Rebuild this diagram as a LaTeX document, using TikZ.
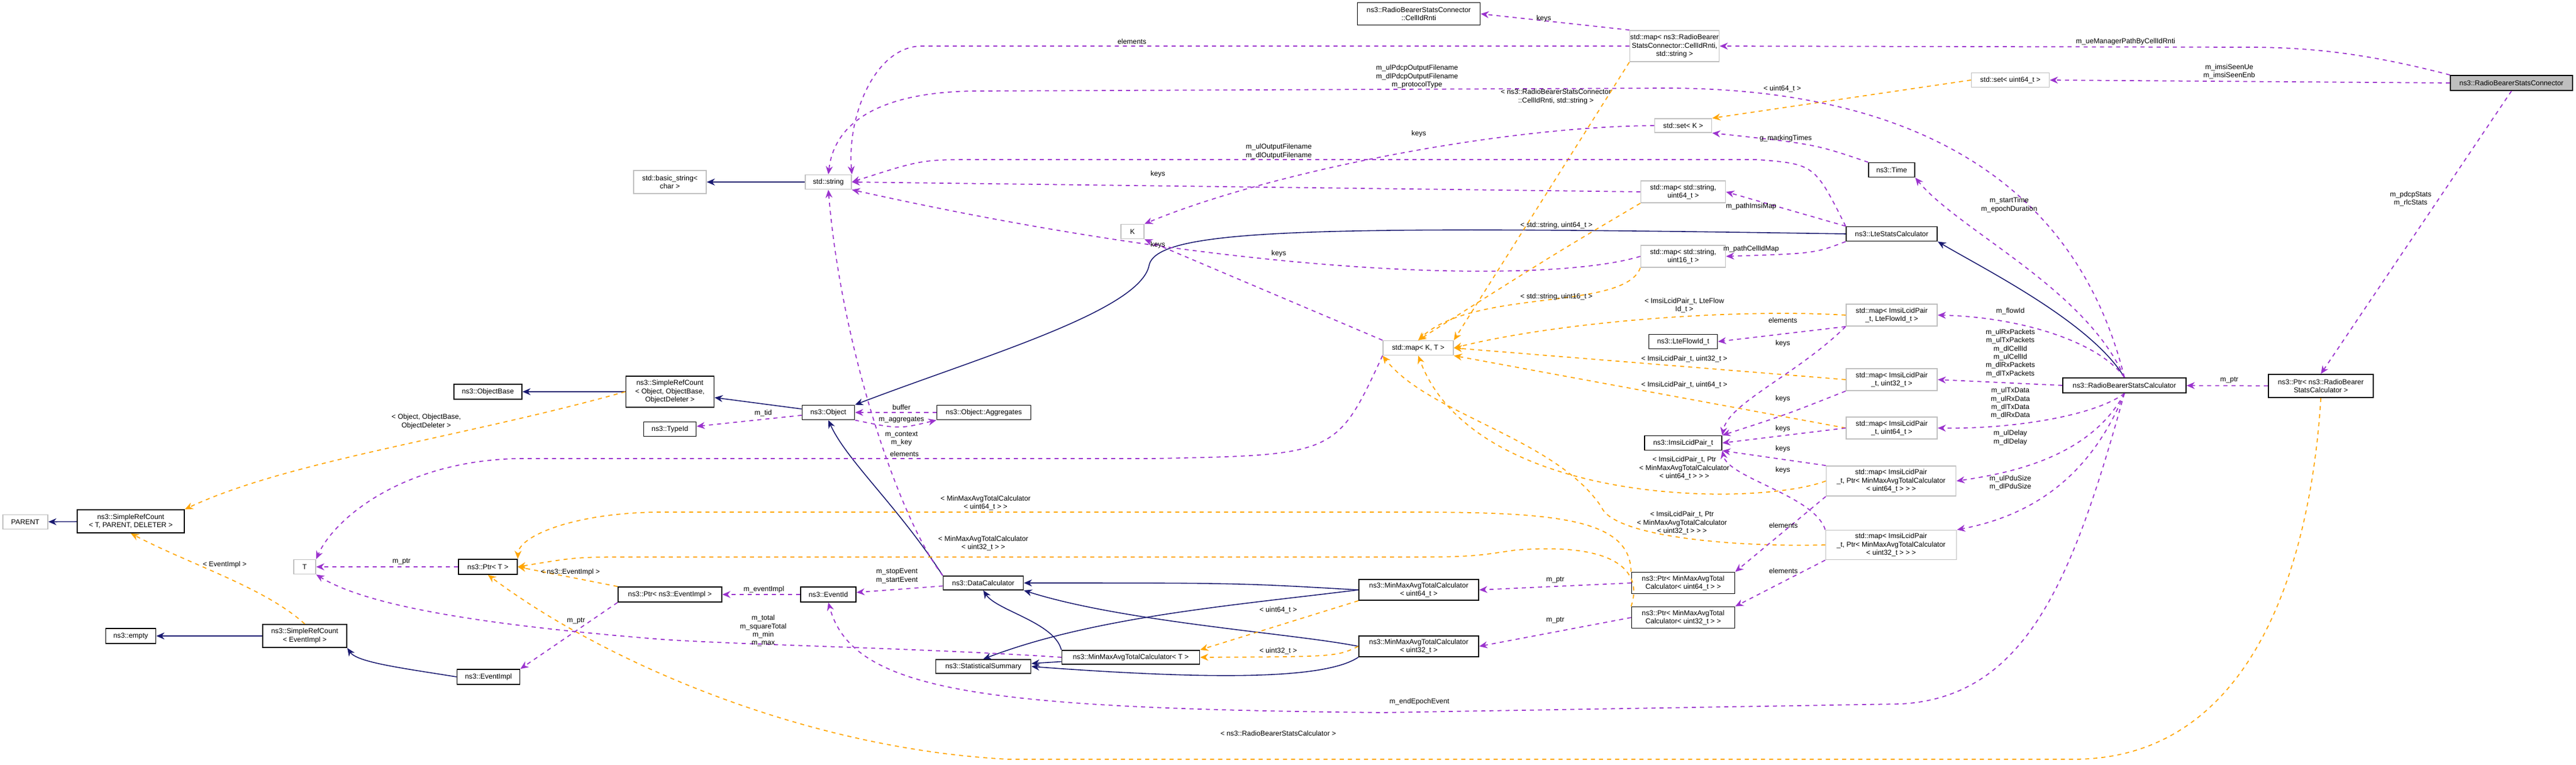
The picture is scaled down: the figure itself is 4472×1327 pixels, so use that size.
\documentclass[tikz,border=0pt]{standalone}
\usepackage{fontspec}
\setmainfont{Liberation Sans}
\usetikzlibrary{arrows.meta}
\definecolor{navy}{HTML}{191970}
\definecolor{purp}{HTML}{9A32CD}
\definecolor{orng}{HTML}{FFA500}
\definecolor{gbord}{HTML}{BFBFBF}
\newcommand{\tf}{\fontsize{3.5}{4.1}\selectfont}
\begin{document}
\begin{tikzpicture}[x=0.01cm,y=-0.01cm,
 box/.style={draw=black,line width=0.5pt,fill=white,font=\tf,align=center,inner sep=0pt},
 gbox/.style={box,draw=gbord},
 lbl/.style={font=\tf,align=center,inner sep=0pt},
 inh/.style={draw=navy,line width=0.45pt,-{Stealth[length=4pt,width=3.4pt]}},
 use/.style={draw=purp,line width=0.5pt,dash pattern=on 2pt off 2pt,-{Stealth[length=4pt,width=3.4pt]}},
 tpl/.style={draw=orng,line width=0.5pt,dash pattern=on 2pt off 2pt,-{Stealth[length=4pt,width=3.4pt]}}]
\useasboundingbox (0,0) rectangle (4472,1327);
\fill[white] (0,0) rectangle (4472,1327);
% nodes
\node[box,fill=gray!50,minimum width=2.12cm,minimum height=0.26cm] (rbsc) at (4360,144) {ns3::RadioBearerStatsConnector};
\node[box,minimum width=2.13cm,minimum height=0.39cm] (cellid) at (2463,24) {ns3::RadioBearerStatsConnector\\::CellIdRnti};
\node[gbox,minimum width=1.55cm,minimum height=0.54cm] (mapcell) at (2907,80) {std::map< ns3::RadioBearer\\StatsConnector::CellIdRnti,\\ std::string >};
\node[gbox,minimum width=1.35cm,minimum height=0.25cm] (setuint) at (3490,139) {std::set< uint64\_t >};
\node[gbox,minimum width=0.99cm,minimum height=0.24cm] (setk) at (2922,218) {std::set< K >};
\node[box,minimum width=0.8cm,minimum height=0.25cm] (time) at (3284,295) {ns3::Time};
\node[box,minimum width=1.58cm,minimum height=0.25cm] (lte) at (3284,406) {ns3::LteStatsCalculator};
\node[gbox,minimum width=1.47cm,minimum height=0.38cm] (mapsu64) at (2922,333) {std::map< std::string,\\ uint64\_t >};
\node[gbox,minimum width=1.47cm,minimum height=0.38cm] (mapsu16) at (2922,445) {std::map< std::string,\\ uint16\_t >};
\node[gbox,minimum width=0.4cm,minimum height=0.25cm] (k) at (1966,402) {K};
\node[gbox,minimum width=0.8cm,minimum height=0.25cm] (str) at (1438,316) {std::string};
\node[gbox,minimum width=1.26cm,minimum height=0.4cm] (bstr) at (1163,316) {std::basic\_string<\\ char >};
\node[gbox,minimum width=1.22cm,minimum height=0.25cm] (mapkt) at (2462,604) {std::map< K, T >};
\node[gbox,minimum width=1.58cm,minimum height=0.38cm] (mapflow) at (3284,547) {std::map< ImsiLcidPair\\\_t, LteFlowId\_t >};
\node[box,minimum width=1.19cm,minimum height=0.25cm] (flowid) at (2922,593) {ns3::LteFlowId\_t};
\node[gbox,minimum width=1.58cm,minimum height=0.38cm] (map32) at (3284,659) {std::map< ImsiLcidPair\\\_t, uint32\_t >};
\node[gbox,minimum width=1.58cm,minimum height=0.38cm] (map64) at (3284,743) {std::map< ImsiLcidPair\\\_t, uint64\_t >};
\node[box,minimum width=1.34cm,minimum height=0.25cm] (imsi) at (2922,769) {ns3::ImsiLcidPair\_t};
\node[gbox,minimum width=2.25cm,minimum height=0.52cm] (mapp64) at (3283,835) {std::map< ImsiLcidPair\\\_t, Ptr< MinMaxAvgTotalCalculator\\< uint64\_t > > >};
\node[gbox,minimum width=2.27cm,minimum height=0.51cm] (mapp32) at (3283,946) {std::map< ImsiLcidPair\\\_t, Ptr< MinMaxAvgTotalCalculator\\< uint32\_t > > >};
\node[box,minimum width=2.14cm,minimum height=0.26cm] (rbcalc) at (3688,669) {ns3::RadioBearerStatsCalculator};
\node[box,minimum width=1.82cm,minimum height=0.4cm] (prbcalc) at (4029,670) {ns3::Ptr< ns3::RadioBearer\\StatsCalculator >};
\node[box,minimum width=1.18cm,minimum height=0.26cm] (objbase) at (847,680) {ns3::ObjectBase};
\node[box,minimum width=1.53cm,minimum height=0.54cm] (srcobj) at (1163,680) {ns3::SimpleRefCount\\< Object, ObjectBase,\\ ObjectDeleter >};
\node[box,minimum width=0.91cm,minimum height=0.25cm] (object) at (1438,716) {ns3::Object};
\node[box,minimum width=0.91cm,minimum height=0.25cm] (typeid) at (1163,745) {ns3::TypeId};
\node[box,minimum width=1.63cm,minimum height=0.25cm] (agg) at (1708,716) {ns3::Object::Aggregates};
\node[gbox,minimum width=0.78cm,minimum height=0.25cm] (parent) at (44,906) {PARENT};
\node[box,minimum width=1.86cm,minimum height=0.4cm] (srct) at (227,905) {ns3::SimpleRefCount\\< T, PARENT, DELETER >};
\node[gbox,minimum width=0.38cm,minimum height=0.25cm] (t) at (529,984) {T};
\node[box,minimum width=1.02cm,minimum height=0.26cm] (ptrt) at (847,984) {ns3::Ptr< T >};
\node[box,minimum width=1.8cm,minimum height=0.26cm] (ptrev) at (1163,1032) {ns3::Ptr< ns3::EventImpl >};
\node[box,minimum width=0.96cm,minimum height=0.26cm] (eventid) at (1438,1032) {ns3::EventId};
\node[box,minimum width=0.87cm,minimum height=0.26cm] (empty) at (227,1104) {ns3::empty};
\node[box,minimum width=1.46cm,minimum height=0.4cm] (srcev) at (529,1104) {ns3::SimpleRefCount\\< EventImpl >};
\node[box,minimum width=1.09cm,minimum height=0.26cm] (evimpl) at (848,1175) {ns3::EventImpl};
\node[box,minimum width=1.39cm,minimum height=0.24cm] (datacalc) at (1707,1012) {ns3::DataCalculator};
\node[box,minimum width=2.08cm,minimum height=0.36cm] (mm64) at (2463,1024) {ns3::MinMaxAvgTotalCalculator\\< uint64\_t >};
\node[box,minimum width=2.08cm,minimum height=0.36cm] (mm32) at (2463,1122) {ns3::MinMaxAvgTotalCalculator\\< uint32\_t >};
\node[box,minimum width=2.39cm,minimum height=0.24cm] (mmt) at (1963,1141) {ns3::MinMaxAvgTotalCalculator< T >};
\node[box,minimum width=1.65cm,minimum height=0.24cm] (stat) at (1707,1157) {ns3::StatisticalSummary};
\node[box,minimum width=1.79cm,minimum height=0.37cm] (pmm64) at (2922,1012) {ns3::Ptr< MinMaxAvgTotal\\Calculator< uint64\_t > >};
\node[box,minimum width=1.79cm,minimum height=0.37cm] (pmm32) at (2922,1072) {ns3::Ptr< MinMaxAvgTotal\\Calculator< uint32\_t > >};
% inheritance
\draw[inh] (srcobj) -- (objbase);
\draw[inh] (object) -- (srcobj);
\draw[inh] (datacalc.north west) .. controls (1560,880) and (1470,800) .. (object.south);
\draw[inh] (lte.west) .. controls (2300,392) and (2010,395) .. (1995,460) .. controls (1980,540) and (1700,620) .. (object.north east);
\draw[inh] (rbcalc.north) .. controls (3630,560) and (3450,470) .. (lte.south east);
\draw[inh] (srct) -- (parent);
\draw[inh] (str) -- (bstr);
\draw[inh] (srcev) -- (empty);
\draw[inh] (evimpl.west) .. controls (700,1160) and (620,1150) .. (srcev.south east);
\draw[inh] (mm64.west) .. controls (2150,1012) .. (datacalc.east);
\draw[inh] (mm32.west) .. controls (2250,1100) and (1950,1080) .. (datacalc.south east);
\draw[inh] (mmt.north west) .. controls (1830,1080) and (1730,1060) .. (datacalc.south);
\draw[inh] (mm64.west) .. controls (2150,1050) and (1900,1070) .. (stat.north);
\draw[inh] (mm32.south west) .. controls (2300,1180) and (2100,1180) .. (stat.east);
\draw[inh] (mmt) -- (stat);
% templates
\draw[tpl] (srcobj.west) .. controls (800,760) and (500,800) .. (srct.north east);
\draw[tpl] (srcev.north) .. controls (460,1020) and (330,980) .. (srct.south);
\draw[tpl] (ptrev.north west) -- (ptrt.east);
\draw[tpl] (pmm64.north west) .. controls (2830,900) and (2700,889) .. (2450,889) -- (1150,889) .. controls (1000,889) and (900,930) .. (ptrt.north east);
\draw[tpl] (pmm32.north west) .. controls (2850,1000) and (2820,940) .. (2630,955) .. controls (2550,967) .. (2400,967) -- (1100,967) .. controls (1000,967) .. (ptrt.east);
\draw[tpl] (prbcalc.south) .. controls (4010,1000) and (3900,1318) .. (3600,1318) -- (1750,1318) .. controls (1400,1300) and (1050,1150) .. (ptrt.south);
\draw[tpl] (mm64.south west) -- (mmt.north east);
\draw[tpl] (mm32.west) .. controls (2320,1140) .. (mmt.east);
\draw[tpl] (mapcell.south west) -- (mapkt.north east);
\draw[tpl] (setuint.west) -- (setk.north east);
\draw[tpl] (mapsu64.south west) .. controls (2700,440) .. (mapkt.north);
\draw[tpl] (mapsu16.south west) .. controls (2820,540) and (2560,500) .. (mapkt.north);
\draw[tpl] (mapflow.west) .. controls (3000,535) and (2700,560) .. (mapkt.east);
\draw[tpl] (map32.west) -- (mapkt.east);
\draw[tpl] (map64.west) -- (mapkt.south east);
\draw[tpl] (mapp64.west) .. controls (3050,880) and (2560,880) .. (mapkt.south);
\draw[tpl] (mapp32.west) .. controls (3000,950) and (2800,930) .. (2780,880) .. controls (2700,760) and (2480,720) .. (mapkt.south west);
% usage
\draw[use] (rbsc.north west) .. controls (4100,90) and (4000,82) .. (3900,82) -- (mapcell.east);
\draw[use] (rbsc.west) -- (setuint.east);
\draw[use] (rbsc.south) -- (prbcalc.north);
\draw[use] (prbcalc) -- (rbcalc);
\draw[use] (mapcell.north west) -- (cellid.east);
\draw[use] (mapcell.west) -- (1600,80) .. controls (1520,80) and (1470,200) .. (str.north east);
\draw[use] (rbcalc.north) .. controls (3600,300) and (3300,155) .. (2900,153) -- (1700,158) .. controls (1550,158) and (1450,200) .. (str.north);
\draw[use] (lte.north west) .. controls (3150,285) .. (3050,277) -- (1700,277) .. controls (1600,277) .. (str.east);
\draw[use] (mapsu64.west) -- (str.east);
\draw[use] (mapsu16.west) .. controls (2700,490) and (2200,490) .. (str.south east);
\draw[use] (setk.west) .. controls (2600,220) and (2200,300) .. (k.north east);
\draw[use] (mapkt.north west) -- (k.south east);
\draw[use] (mapkt.south west) .. controls (2320,790) .. (2000,796) -- (900,796) .. controls (700,800) and (580,900) .. (t.north east);
\draw[use] (time.north west) .. controls (3150,250) .. (setk.south east);
\draw[use] (lte.north west) -- (mapsu64.east);
\draw[use] (lte.south west) .. controls (3150,440) .. (mapsu16.east);
\draw[use] (rbcalc.north) .. controls (3620,500) and (3400,400) .. (time.south east);
\draw[use] (rbcalc.north) .. controls (3640,590) and (3500,550) .. (mapflow.east);
\draw[use] (rbcalc.west) -- (map32.east);
\draw[use] (rbcalc.south) .. controls (3640,720) and (3500,745) .. (map64.east);
\draw[use] (rbcalc.south) .. controls (3630,790) and (3500,820) .. (mapp64.east);
\draw[use] (rbcalc.south) .. controls (3620,850) and (3500,900) .. (mapp32.north east);
\draw[use] (rbcalc.south) .. controls (3600,1000) and (3520,1210) .. (3300,1222) -- (2400,1237) .. controls (1700,1230) and (1480,1200) .. (eventid.south);
\draw[use] (mapflow.south west) -- (flowid.east);
\draw[use] (mapflow.south west) .. controls (3120,650) and (3000,700) .. (imsi.north east);
\draw[use] (map32.south west) .. controls (3100,720) .. (imsi.north east);
\draw[use] (map64.west) -- (imsi.east);
\draw[use] (mapp64.north west) -- (imsi.south east);
\draw[use] (mapp32.north west) .. controls (3150,860) and (3000,830) .. (imsi.south east);
\draw[use] (mapp64.south west) -- (pmm64.north east);
\draw[use] (mapp32.south west) -- (pmm32.north east);
\draw[use] (pmm64.west) -- (mm64.east);
\draw[use] (pmm32.west) -- (mm32.east);
\draw[use] (ptrt) -- (t);
\draw[use] (ptrev.south west) -- (evimpl.north east);
\draw[use] (eventid) -- (ptrev);
\draw[use] (datacalc) -- (eventid);
\draw[use] (mmt.west) .. controls (1600,1125) and (1300,1120) .. (1150,1110) .. controls (900,1090) and (650,1060) .. (t.south east);
\draw[use] (object) -- (typeid);
\draw[use] (agg) -- (object);
\draw[use] (object.south east) .. controls (1560,745) .. (agg.south west);
\draw[use] (datacalc.north west) .. controls (1560,900) and (1460,600) .. (str.south);
% labels
\node[lbl] (l1) at (3690,72) {m\_ueManagerPathByCellIdRnti};
\node[lbl] (l2) at (3870,124) {m\_imsiSeenUe\\m\_imsiSeenEnb};
\node[lbl] (l3) at (4185,345) {m\_pdcpStats\\m\_rlcStats};
\node[lbl] (l4) at (2680,32) {keys};
\node[lbl] (l5) at (1965,72) {elements};
\node[lbl] (l6) at (2460,133) {m\_ulPdcpOutputFilename\\m\_dlPdcpOutputFilename\\m\_protocolType};
\node[lbl] (l7) at (2701,168) {< ns3::RadioBearerStatsConnector\\::CellIdRnti, std::string >};
\node[lbl] (l8) at (3094,154) {< uint64\_t >};
\node[lbl] (l9) at (2463,232) {keys};
\node[lbl] (l10) at (2220,263) {m\_ulOutputFilename\\m\_dlOutputFilename};
\node[lbl] (l11) at (2010,302) {keys};
\node[lbl] (l12) at (3100,240) {g\_markingTimes};
\node[lbl] (l13) at (3040,358) {m\_pathImsiMap};
\node[lbl] (l14) at (3040,432) {m\_pathCellIdMap};
\node[lbl] (l15) at (3488,356) {m\_startTime\\m\_epochDuration};
\node[lbl] (l16) at (2702,391) {< std::string, uint64\_t >};
\node[lbl] (l17) at (2010,425) {keys};
\node[lbl] (l18) at (2220,440) {keys};
\node[lbl] (l19) at (2702,515) {< std::string, uint16\_t >};
\node[lbl] (l20) at (2924,530) {< ImsiLcidPair\_t, LteFlow\\Id\_t >};
\node[lbl] (l21) at (3095,556) {elements};
\node[lbl] (l22) at (3095,596) {keys};
\node[lbl] (l23) at (3490,540) {m\_flowId};
\node[lbl] (l24) at (3490,613) {m\_ulRxPackets\\m\_ulTxPackets\\m\_dlCellId\\m\_ulCellId\\m\_dlRxPackets\\m\_dlTxPackets};
\node[lbl] (l25) at (2924,623) {< ImsiLcidPair\_t, uint32\_t >};
\node[lbl] (l26) at (2924,668) {< ImsiLcidPair\_t, uint64\_t >};
\node[lbl] (l27) at (3095,692) {keys};
\node[lbl] (l28) at (3490,700) {m\_ulTxData\\m\_ulRxData\\m\_dlTxData\\m\_dlRxData};
\node[lbl] (l29) at (3095,744) {keys};
\node[lbl] (l30) at (3490,760) {m\_ulDelay\\m\_dlDelay};
\node[lbl] (l31) at (3095,779) {keys};
\node[lbl] (l32) at (2924,813) {< ImsiLcidPair\_t, Ptr\\< MinMaxAvgTotalCalculator\\< uint64\_t > > >};
\node[lbl] (l33) at (3095,816) {keys};
\node[lbl] (l34) at (3490,838) {m\_ulPduSize\\m\_dlPduSize};
\node[lbl] (l35) at (2920,908) {< ImsiLcidPair\_t, Ptr\\< MinMaxAvgTotalCalculator\\< uint32\_t > > >};
\node[lbl] (l36) at (3096,912) {elements};
\node[lbl] (l37) at (3096,991) {elements};
\node[lbl] (l38) at (2700,1007) {m\_ptr};
\node[lbl] (l39) at (2700,1077) {m\_ptr};
\node[lbl] (l40) at (2219,1059) {< uint64\_t >};
\node[lbl] (l41) at (2219,1130) {< uint32\_t >};
\node[lbl] (l42) at (2464,1218) {m\_endEpochEvent};
\node[lbl] (l43) at (2219,1273) {< ns3::RadioBearerStatsCalculator >};
\node[lbl] (l44) at (1711,873) {< MinMaxAvgTotalCalculator\\< uint64\_t > >};
\node[lbl] (l45) at (1707,943) {< MinMaxAvgTotalCalculator\\< uint32\_t > >};
\node[lbl] (l46) at (1570,788) {elements};
\node[lbl] (l47) at (1325,717) {m\_tid};
\node[lbl] (l48) at (1565,707) {buffer};
\node[lbl] (l49) at (1565,729) {m\_aggregates};
\node[lbl] (l50) at (1565,762) {m\_context\\m\_key};
\node[lbl] (l51) at (740,732) {< Object, ObjectBase,\\ObjectDeleter >};
\node[lbl] (l52) at (390,980) {< EventImpl >};
\node[lbl] (l53) at (697,975) {m\_ptr};
\node[lbl] (l54) at (990,993) {< ns3::EventImpl >};
\node[lbl] (l55) at (1326,1023) {m\_eventImpl};
\node[lbl] (l56) at (1557,1000) {m\_stopEvent\\m\_startEvent};
\node[lbl] (l57) at (1000,1078) {m\_ptr};
\node[lbl] (l58) at (1325,1095) {m\_total\\m\_squareTotal\\m\_min\\m\_max};
\node[lbl] (l59) at (3870,660) {m\_ptr};
\end{tikzpicture}
\end{document}
